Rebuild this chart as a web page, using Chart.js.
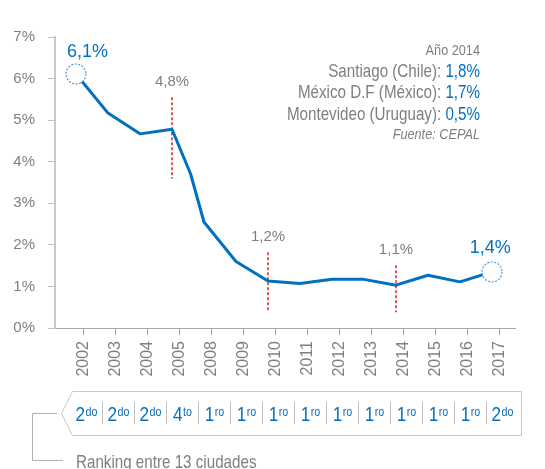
<!DOCTYPE html>
<html><head><meta charset="utf-8">
<script src="https://cdn.jsdelivr.net/npm/chart.js@4.4.0/dist/chart.umd.min.js"></script>
<style>html,body{margin:0;padding:0;background:#fff;}#wrap{width:545px;height:469px;position:relative;}</style>
</head><body><div id="wrap"><canvas id="c"></canvas></div>
<script>
// ---------- data ----------
const years = ['2002','2003','2004','2005','2008','2009','2010','2011','2012','2013','2014','2015','2016','2017'];
// position of each reading on the year axis (year index) and its value (%)
const seriesIndex  = [0, 1, 2, 3, 3.58, 4, 5, 6, 7, 8, 9, 10, 11, 12, 13];
const seriesValues = [6.11, 5.17, 4.67, 4.78, 3.71, 2.55, 1.6, 1.13, 1.07, 1.17, 1.17, 1.03, 1.27, 1.11, 1.35];
const yTickValues = [0, 1, 2, 3, 4, 5, 6, 7];
const highlightPoints = [0, 14];
const highlightText = ['6,1%', '1,4%'];
const markYearIndex = [3, 6, 10];
const markText = ['4,8%', '1,2%', '1,1%'];
const markTop = [5.55, 1.82, 1.51];
const markBottom = [3.59, 0.38, 0.38];
const rankNumber = ['2','2','2','4','1','1','1','1','1','1','1','1','1','2'];
const rankSuffix = ['do','do','do','to','ro','ro','ro','ro','ro','ro','ro','ro','ro','do'];
const cities = ['Santiago (Chile)', 'México D.F (México)', 'Montevideo (Uruguay)'];
const cityValues = ['1,8%', '1,7%', '0,5%'];

// ---------- style ----------
const FONT = "'Liberation Sans', Arial, sans-serif";
const GREY = '#7f7f7f', BLUE = '#0070c0';
const TICK_OFFSET = 0.25, CELL_SHIFT = 0.32;

const probe = document.createElement('canvas').getContext('2d');
function w(f){ probe.font = f; return probe.measureText('abcdefghijklmnop').width; }
const HAS_NARROW = w("20px 'Liberation Sans Narrow', monospace") !== w('20px monospace');

function narrowText(ctx, text, x, y, size, align, style) {
  style = style || '';
  ctx.save();
  if (HAS_NARROW) {
    ctx.font = `${style} ${size}px 'Liberation Sans Narrow'`;
    ctx.textAlign = align;
    ctx.fillText(text, x, y);
  } else {
    ctx.font = `${style} ${size}px ${FONT}`;
    ctx.textAlign = align;
    ctx.translate(x, y); ctx.scale(0.82, 1);
    ctx.fillText(text, 0, 0);
  }
  ctx.restore();
}
function narrowWidth(ctx, text, size, style) {
  style = style || '';
  ctx.save();
  let wd;
  if (HAS_NARROW) { ctx.font = `${style} ${size}px 'Liberation Sans Narrow'`; wd = ctx.measureText(text).width; }
  else { ctx.font = `${style} ${size}px ${FONT}`; wd = ctx.measureText(text).width * 0.82; }
  ctx.restore();
  return wd;
}

function markerCanvas() {
  const c = document.createElement('canvas'); c.width = 24; c.height = 24;
  const g = c.getContext('2d');
  g.beginPath(); g.arc(12, 12, 10, 0, Math.PI * 2);
  g.fillStyle = '#fff'; g.fill();
  g.setLineDash([2, 1.5]); g.lineWidth = 1.2; g.strokeStyle = '#4f93d2'; g.stroke();
  return c;
}
const marker = markerCanvas();

const overlay = {
  id: 'overlay',
  afterDatasetsDraw(chart) {
    const ctx = chart.ctx, xs = chart.scales.x, ys = chart.scales.y;
    const meta = chart.getDatasetMeta(0);
    ctx.save();
    ctx.textBaseline = 'middle';
    // highlighted values
    ctx.textAlign = 'center';
    ctx.font = `18px ${FONT}`; ctx.fillStyle = BLUE;
    const hOff = [[11.5, -22], [-1.7, -24]];
    highlightPoints.forEach((idx, k) => {
      const p = meta.data[idx];
      ctx.fillText(highlightText[k], p.x + hOff[k][0], p.y + hOff[k][1]);
    });
    // marked values
    ctx.font = `15px ${FONT}`; ctx.fillStyle = GREY;
    markYearIndex.forEach((m, k) => {
      ctx.fillText(markText[k], xs.getPixelForValue(m), ys.getPixelForValue(markTop[k]) - 15.5);
    });
    // legend block
    ctx.fillStyle = GREY;
    narrowText(ctx, 'Año 2014', 480, 51, 15.5, 'right');
    const lineY = [72, 93, 115];
    cities.forEach((c, k) => {
      const vw = narrowWidth(ctx, cityValues[k], 18.5);
      ctx.fillStyle = BLUE;
      narrowText(ctx, cityValues[k], 480, lineY[k], 18.5, 'right');
      ctx.fillStyle = GREY;
      narrowText(ctx, c + ': ', 480 - vw, lineY[k], 18.5, 'right');
    });
    narrowText(ctx, 'Fuente: CEPAL', 480, 135, 15.5, 'right', 'italic');

    // ranking strip
    ctx.strokeStyle = '#c8c8c8'; ctx.lineWidth = 1;
    const top = 391.5, bot = 435.5, left = 72.5, tip = 61.5, right = 521.5, mid = 413.5;
    ctx.beginPath();
    ctx.moveTo(left, top); ctx.lineTo(right, top); ctx.lineTo(right, bot);
    ctx.lineTo(left, bot); ctx.lineTo(tip, mid); ctx.closePath(); ctx.stroke();
    ctx.strokeStyle = '#bfbfbf';
    for (let k = 0; k < years.length - 1; k++) {
      const x = Math.round(xs.getPixelForValue(k + 0.5 + CELL_SHIFT)) + 0.5;
      ctx.beginPath(); ctx.moveTo(x, 402); ctx.lineTo(x, 424); ctx.stroke();
    }
    ctx.textBaseline = 'alphabetic';
    ctx.fillStyle = BLUE;
    years.forEach((_, k) => {
      const cx = xs.getPixelForValue(k + CELL_SHIFT);
      const wn = narrowWidth(ctx, rankNumber[k], 21);
      const wsu = narrowWidth(ctx, rankSuffix[k], 13);
      const x0 = cx - (wn + wsu) / 2;
      narrowText(ctx, rankNumber[k], x0, 421, 21, 'left');
      narrowText(ctx, rankSuffix[k], x0 + wn + 0.5, 415.5, 13, 'left');
    });
    // bracket + caption
    ctx.strokeStyle = '#b0b0b0';
    ctx.beginPath();
    ctx.moveTo(57, 413.5); ctx.lineTo(32.5, 413.5); ctx.lineTo(32.5, 460.5); ctx.lineTo(63, 460.5);
    ctx.stroke();
    ctx.fillStyle = GREY;
    narrowText(ctx, 'Ranking entre 13 ciudades', 76, 468, 18.5, 'left');
    ctx.restore();
  }
};

const mainData = seriesIndex.map((x, i) => ({ x: x, y: seriesValues[i] }));
const markSets = markYearIndex.map((m, k) => ({
  data: [{ x: m, y: markTop[k] }, { x: m, y: markBottom[k] }],
  borderColor: '#d9262b', borderWidth: 1.5, borderDash: [3, 2],
  pointRadius: 0, order: 2
}));

new Chart(document.getElementById('c'), {
  type: 'line',
  data: {
    datasets: [{
      data: mainData,
      borderColor: BLUE, borderWidth: 3, tension: 0,
      borderJoinStyle: 'round',
      pointStyle: ctx => highlightPoints.includes(ctx.dataIndex) ? marker : 'circle',
      pointRadius: ctx => highlightPoints.includes(ctx.dataIndex) ? 10 : 0,
      order: 1
    }, ...markSets]
  },
  options: {
    responsive: true, maintainAspectRatio: false, animation: false,
    events: [],
    layout: { padding: { top: 37, right: 30, left: 0, bottom: 0 } },
    plugins: { legend: { display: false }, tooltip: { enabled: false } },
    scales: {
      x: {
        type: 'linear', min: -0.656, max: 13.72,
        afterBuildTicks: s => { s.ticks = years.map((_, i) => ({ value: i + TICK_OFFSET })); },
        afterFit: s => { s.height = 141; },
        ticks: {
          autoSkip: false, minRotation: 90, maxRotation: 90, padding: 6,
          color: GREY, font: { family: FONT, size: 16 },
          callback: (v, i) => years[i]
        },
        grid: { drawOnChartArea: false, drawTicks: true, tickLength: 7, color: '#a6a6a6' },
        border: { color: '#a6a6a6', width: 1 }
      },
      y: {
        min: 0, max: 7,
        afterBuildTicks: s => { s.ticks = yTickValues.map(v => ({ value: v })); },
        afterFit: s => { s.width = 55; },
        ticks: { color: GREY, font: { family: FONT, size: 15 }, padding: 13, callback: v => v + '%' },
        grid: { drawOnChartArea: false, drawTicks: true, tickLength: 7, color: '#bfbfbf' },
        border: { color: '#c8c8c8', width: 2 }
      }
    }
  },
  plugins: [overlay]
});
</script></body></html>
